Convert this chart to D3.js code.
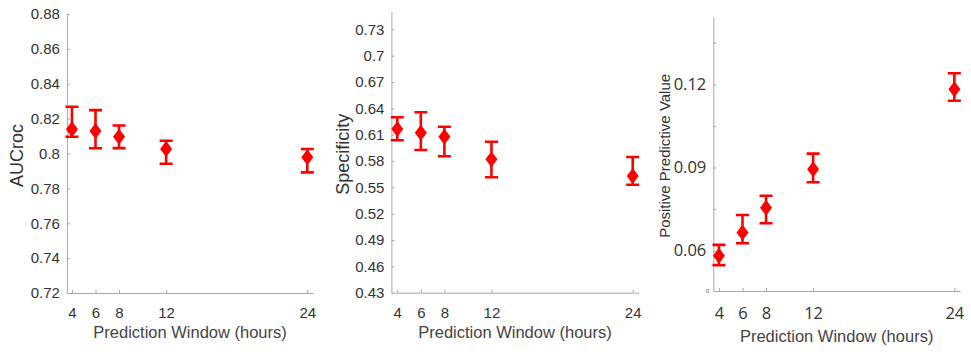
<!DOCTYPE html>
<html>
<head>
<meta charset="utf-8">
<script src="https://cdn.jsdelivr.net/npm/d3@7"></script>
<style>
  body { margin: 0; background: #fff; }
  svg { display: block; }
</style>
</head>
<body>
<svg id="chart" width="971" height="354"></svg>
<script>
// prediction windows (hours)
const hours = [4, 6, 8, 12, 24];

// AUCroc panel
const aucMean = [0.8139, 0.8129, 0.8096, 0.8026, 0.7978];
const aucLow = [0.8096, 0.8030, 0.8031, 0.7941, 0.7892];
const aucHigh = [0.8268, 0.8249, 0.8161, 0.8073, 0.8026];
const aucTicks = [0.72, 0.74, 0.76, 0.78, 0.80, 0.82, 0.84, 0.86, 0.88];
const aucTickLabels = ["0.72", "0.74", "0.76", "0.78", "0.8", "0.82", "0.84", "0.86", "0.88"];

// Specificity panel
const specMean = [0.6165, 0.6123, 0.6077, 0.5820, 0.5630];
const specLow = [0.6036, 0.5926, 0.5854, 0.5615, 0.5530];
const specHigh = [0.6298, 0.6355, 0.6191, 0.6020, 0.5846];
const specTicks = [0.43, 0.46, 0.49, 0.52, 0.55, 0.58, 0.61, 0.64, 0.67, 0.70, 0.73];
const specTickLabels = ["0.43", "0.46", "0.49", "0.52", "0.55", "0.58", "0.61", "0.64", "0.67", "0.7", "0.73"];

// Positive predictive value panel
const ppvMean = [0.0582, 0.0666, 0.0755, 0.0894, 0.1182];
const ppvLow = [0.0548, 0.0627, 0.0699, 0.0847, 0.1141];
const ppvHigh = [0.0621, 0.0729, 0.0798, 0.0950, 0.1240];
const ppvTicks = [0.06, 0.075, 0.09, 0.105, 0.12, 0.135];
const ppvTickLabels = ["0.06", "", "0.09", "", "0.12", ""];

const xTitle = "Prediction Window (hours)";

const svg = d3.select("#chart");
const red = "#ff0000";

const panels = [
  {
    mean: aucMean, low: aucLow, high: aucHigh,
    ticks: aucTicks, labels: aucTickLabels, title: "AUCroc",
    xDomain: [3.57, 24.5], xRange: [66.9, 313.2],
    yDomain: [0.72, 0.88], yRange: [293, 14],
    tickFont: "'Liberation Sans', Arial, sans-serif", tickSize: "15px",
    titleFont: "'Liberation Sans', Arial, sans-serif", yTitleSize: "18px",
    yTitleX: 23, xLabelY: 318, xTitleY: 338
  },
  {
    mean: specMean, low: specLow, high: specHigh,
    ticks: specTicks, labels: specTickLabels, title: "Specificity",
    xDomain: [3.5, 24.5], xRange: [391.4, 638.6],
    yDomain: [0.43, 0.75], yRange: [292.7, 11.8],
    tickFont: "'Liberation Sans', Arial, sans-serif", tickSize: "15px",
    titleFont: "'Liberation Sans', Arial, sans-serif", yTitleSize: "18px",
    yTitleX: 349, xLabelY: 318, xTitleY: 338
  },
  {
    mean: ppvMean, low: ppvLow, high: ppvHigh,
    ticks: ppvTicks, labels: ppvTickLabels, title: "Positive Predictive Value",
    xDomain: [3.52, 24.48], xRange: [713.3, 960],
    yDomain: [0.04547, 0.1444], yRange: [291, 16.7],
    tickFont: "'Open Sans', 'Noto Sans', sans-serif", tickSize: "16.5px",
    titleFont: "'Liberation Sans', Arial, sans-serif", yTitleSize: "15px",
    yTitleX: 670, xLabelY: 319, xTitleY: 342, zeroLabel: true
  }
];

panels.forEach(p => drawPanel(p));

function drawPanel(p) {
  const x = d3.scaleLinear().domain(p.xDomain).range(p.xRange);
  const y = d3.scaleLinear().domain(p.yDomain).range(p.yRange);
  const x0 = p.xRange[0];
  const yBottom = p.yRange[0];

  // x axis
  const gx = svg.append("g")
    .attr("transform", `translate(0,${yBottom})`)
    .call(d3.axisBottom(x).tickValues(hours).tickFormat(d3.format("d"))
      .tickSizeInner(-3).tickSizeOuter(0).tickPadding(14));
  styleAxis(gx, p);
  gx.selectAll(".tick text").attr("y", p.xLabelY - yBottom).attr("dy", "0");

  // y axis
  const gy = svg.append("g")
    .attr("transform", `translate(${x0},0)`)
    .call(d3.axisLeft(y).tickValues(p.ticks).tickFormat((d, i) => p.labels[i])
      .tickSizeInner(-3).tickSizeOuter(0).tickPadding(7));
  styleAxis(gy, p);

  if (p.zeroLabel) {
    svg.append("text")
      .attr("x", x0 - 4).attr("y", y(p.yDomain[0]) + 2)
      .attr("text-anchor", "end")
      .style("font-family", p.tickFont).style("font-size", "6px")
      .attr("fill", "#444")
      .text("0");
  }

  // titles
  svg.append("text")
    .attr("x", (p.xRange[0] + p.xRange[1]) / 2)
    .attr("y", p.xTitleY)
    .attr("text-anchor", "middle")
    .style("font-family", p.titleFont).style("font-size", "16.5px")
    .attr("fill", "#444")
    .text(xTitle);

  svg.append("text")
    .attr("transform", `translate(${p.yTitleX},${(p.yRange[0] + p.yRange[1]) / 2 + 2}) rotate(-90)`)
    .attr("text-anchor", "middle")
    .style("font-family", p.titleFont).style("font-size", p.yTitleSize)
    .attr("fill", "#333")
    .text(p.title);

  // error bars
  const rows = hours.map((h, i) => ({ h, m: p.mean[i], lo: p.low[i], hi: p.high[i] }));
  const cap = 6.5;
  const bars = svg.append("g").attr("stroke", red).attr("stroke-width", 2.6).attr("fill", "none");
  bars.selectAll("path")
    .data(rows)
    .join("path")
    .attr("d", d => {
      const cx = x(d.h), yl = y(d.lo), yh = y(d.hi);
      return `M${cx - cap},${yh}H${cx + cap}M${cx},${yh}V${yl}M${cx - cap},${yl}H${cx + cap}`;
    });

  // diamond markers
  svg.append("g").attr("fill", red)
    .selectAll("path")
    .data(rows)
    .join("path")
    .attr("d", d => {
      const cx = x(d.h), cy = y(d.m);
      return `M${cx},${cy - 8}L${cx + 6},${cy}L${cx},${cy + 8}L${cx - 6},${cy}Z`;
    });
}

function styleAxis(g, p) {
  g.select(".domain").attr("stroke", "#a8a8a8");
  g.selectAll(".tick line").attr("stroke", "#a8a8a8");
  g.selectAll(".tick text")
    .style("font-family", p.tickFont).style("font-size", p.tickSize)
    .attr("fill", "#333");
}
</script>
</body>
</html>
